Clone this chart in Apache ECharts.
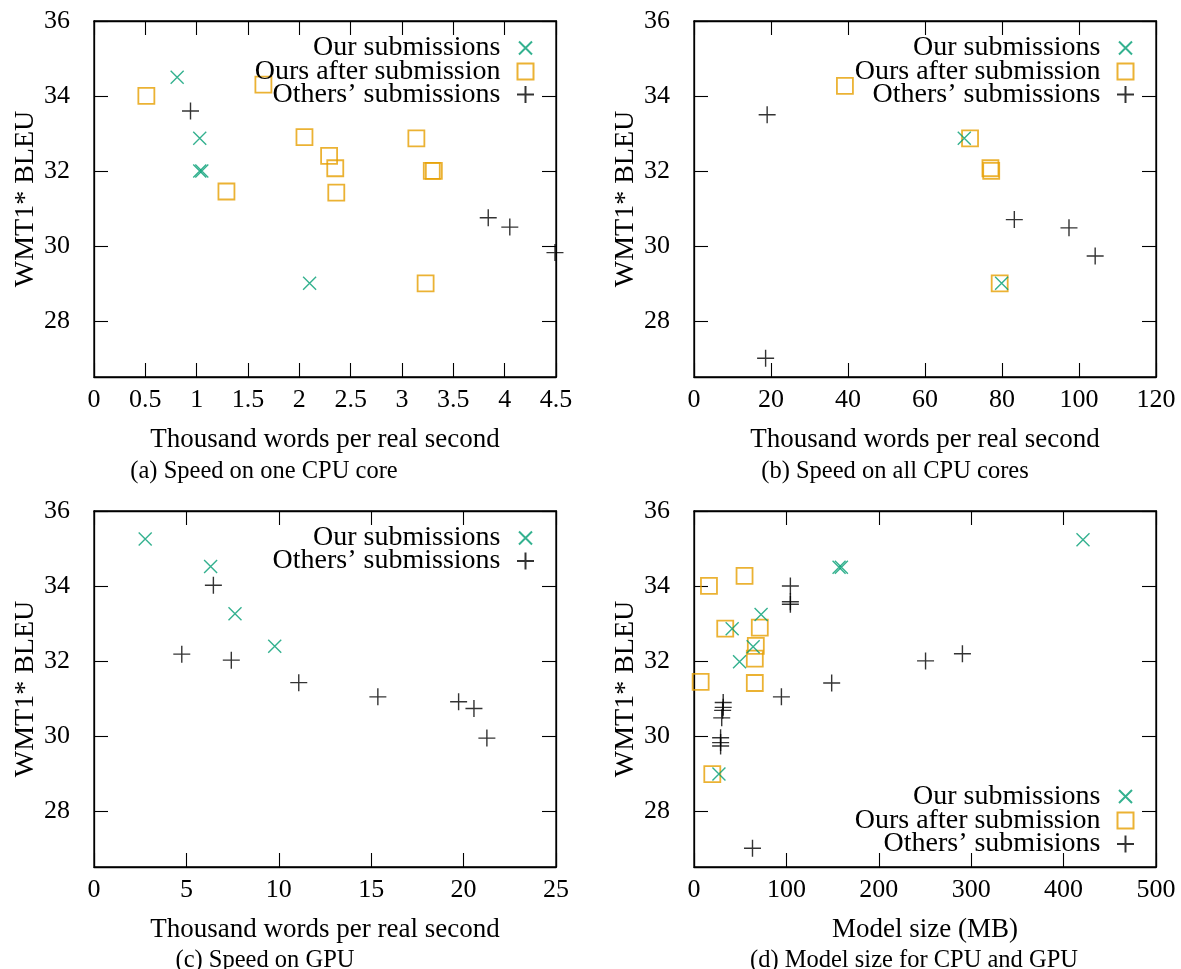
<!DOCTYPE html>
<html><head><meta charset="utf-8">
<script src="https://cdn.jsdelivr.net/npm/echarts@6/dist/echarts.min.js"></script>
<style>html,body{margin:0;padding:0;background:#fff}#c{width:1181px;height:969px}</style>
</head><body><div id="c"></div><script>
// ---- data (x, BLEU) ----
const aOurs = [[0.81,34.5],[1.03,32.87],[1.03,32.0],[1.05,32.0],[2.1,29.0]];
const aAfter = [[0.51,34.0],[1.65,34.3],[1.29,31.45],[2.05,32.9],[2.29,32.4],[2.35,32.07],[2.36,31.42],[3.14,32.87],[3.29,32.0],[3.31,32.0],[3.23,29.0]];
const aOthers = [[0.94,33.6],[3.84,30.75],[4.05,30.5],[4.49,29.82]];

const bOurs = [[70.2,32.87],[79.9,29.0]];
const bAfter = [[39.2,34.27],[71.7,32.87],[77.0,32.07],[77.2,32.0],[79.4,29.0]];
const bOthers = [[19.0,33.5],[18.6,27.0],[83.2,30.7],[97.4,30.48],[104.2,29.73]];

const cOurs = [[2.77,35.25],[6.31,34.52],[7.63,33.26],[9.78,32.39]];
const cOthers = [[6.46,34.02],[4.75,32.18],[7.43,32.02],[11.08,31.42],[15.36,31.04],[19.73,30.91],[20.56,30.73],[21.26,29.94]];

const dOurs = [[421,35.23],[157,34.5],[159.5,34.5],[72.6,33.24],[41.3,32.86],[64,32.38],[49.3,31.98],[27,28.98]];
const dAfter = [[16.2,34.0],[54.7,34.27],[33.8,32.86],[71.2,32.89],[66.9,32.4],[65.8,32.06],[65.8,31.41],[7.2,31.44],[19.8,28.98]];
const dOthers = [[104.3,34.0],[104.3,33.58],[104.3,33.51],[94.6,31.04],[149,31.41],[250.6,32.0],[290.5,32.19],[63.3,27.0],
  [31.6,30.89],[31.6,30.76],[31.0,30.68],[30.0,30.48],[28.8,29.95],[28.8,29.82],[28.8,29.73]];

const yTicks = [28,30,32,34,36];
const xRanges = [[0,4.5,0.5],[0,120,20],[0,25,5],[0,500,100]];
const xNames = ['Thousand words per real second','Thousand words per real second','Thousand words per real second','Model size (MB)'];
const captions = ['(a) Speed on one CPU core','(b) Speed on all CPU cores','(c) Speed on GPU','(d) Model size for CPU and GPU'];
const yName = 'WMT1* BLEU';
const N_OURS = 'Our submissions', N_AFTER = 'Ours after submission', N_OTH = 'Others\u2019 submissions', N_OTH_D = 'Others\u2019 submisions';

// ---- style ----
const FONT = '"Liberation Serif","DejaVu Serif",serif';
const GREEN = '#009E73', ORANGE = '#E69F00', BLACK = '#000';
const grids = [
  {left:94, top:21, width:462, height:356},
  {left:694, top:21, width:462, height:356},
  {left:94, top:511, width:462, height:356},
  {left:694, top:511, width:462, height:356}
].map(g => Object.assign(g, {show:true, borderColor:'#000', borderWidth:1.3, backgroundColor:'transparent'}));
const crossSym = 'path://M0,0L13,13M13,0L0,13';
const plusSym = 'path://M8.5,0L8.5,17M0,8.5L17,8.5';

function sOurs(i, data){ return {type:'scatter', name:N_OURS, xAxisIndex:2*i, yAxisIndex:2*i, data,
  symbol:crossSym, symbolSize:13, itemStyle:{color:'none', borderColor:GREEN, borderWidth:1.4}, emphasis:{disabled:true}, z:3}; }
function sAfter(i, data){ return {type:'scatter', name:N_AFTER, xAxisIndex:2*i, yAxisIndex:2*i, data,
  symbol:'rect', symbolSize:16, itemStyle:{color:'none', borderColor:ORANGE, borderWidth:1.8}, emphasis:{disabled:true}, z:2}; }
function sOth(i, data, name){ return {type:'scatter', name:name||N_OTH, xAxisIndex:2*i, yAxisIndex:2*i, data,
  symbol:plusSym, symbolSize:17, itemStyle:{color:'none', borderColor:BLACK, borderWidth:1.4}, emphasis:{disabled:true}, z:4}; }

function line(){ return {show:true, onZero:false, lineStyle:{color:'#000', width:1.3}}; }
function tick(cv){ const t = {show:true, inside:true, length:14, lineStyle:{color:'#000', width:1.1}}; if (cv) t.customValues = cv; return t; }

const xAxis = [], yAxis = [];
grids.forEach((g,i)=>{
  const r = xRanges[i];
  xAxis.push({type:'value', gridIndex:i, position:'bottom', min:r[0], max:r[1], interval:r[2],
    axisLine:line(), axisTick:tick(), splitLine:{show:false},
    axisLabel:{show:true, margin:10, fontFamily:FONT, fontSize:26, color:'#000', showMinLabel:true, showMaxLabel:true},
    name:xNames[i], nameLocation:'middle', nameGap:49, nameTextStyle:{fontFamily:FONT, fontSize:27, color:'#000'}});
  xAxis.push({type:'value', gridIndex:i, position:'top', min:r[0], max:r[1], interval:r[2],
    axisLine:line(), axisTick:tick(), splitLine:{show:false}, axisLabel:{show:false}});
  yAxis.push({type:'value', gridIndex:i, position:'left', min:26.5, max:36,
    axisLine:line(), axisTick:tick(yTicks), splitLine:{show:false},
    axisLabel:{show:true, customValues:yTicks, margin:24, fontFamily:FONT, fontSize:26, color:'#000'},
    name:yName, nameLocation:'middle', nameGap:51, nameRotate:90, nameTextStyle:{fontFamily:FONT, fontSize:28, color:'#000'}});
  yAxis.push({type:'value', gridIndex:i, position:'right', min:26.5, max:36,
    axisLine:line(), axisTick:tick(yTicks), splitLine:{show:false}, axisLabel:{show:false}});
});

const series = [
  sAfter(0,aAfter), sOurs(0,aOurs), sOth(0,aOthers),
  sAfter(1,bAfter), sOurs(1,bOurs), sOth(1,bOthers),
  sOurs(2,cOurs), sOth(2,cOthers),
  sAfter(3,dAfter), sOurs(3,dOurs), sOth(3,dOthers,N_OTH_D)
];

function leg(name, iconCx, cy, size, textRight){
  const right = 1181 - (iconCx + size/2);
  const iconLeft = iconCx - size/2;
  const pad = Math.max(0, iconLeft - 5 - textRight);
  return {data:[name], orient:'vertical', align:'right', right:right, top:cy-12, padding:0,
    itemWidth:size, itemHeight:size, selectedMode:false,
    textStyle:{fontFamily:FONT, fontSize:28, color:'#000', lineHeight:24, padding:[0,pad,0,0]}};
}
const legend = [
  leg(N_OURS, 528, 46, 13, 503), leg(N_AFTER, 528, 69.5, 16, 503), leg(N_OTH, 528, 92.5, 17, 503),
  leg(N_OURS, 1128, 46, 13, 1103), leg(N_AFTER, 1128, 69.5, 16, 1103), leg(N_OTH, 1128, 92.5, 17, 1103),
  leg(N_OURS, 528, 536, 13, 503), leg(N_OTH, 528, 559, 17, 503),
  leg(N_OURS, 1128, 794.5, 13, 1103), leg(N_AFTER, 1128, 818.5, 16, 1103), leg(N_OTH_D, 1128, 842, 17, 1103)
];

const capPos = [[264,472],[895,472],[265,961],[914,961]];
const graphic = captions.map((t,i)=>({type:'text', x:capPos[i][0], y:capPos[i][1], silent:true,
  style:{text:t, font:'24.5px "Liberation Serif"', fill:'#000', textAlign:'center', textVerticalAlign:'middle'}}));

const chart = echarts.init(document.getElementById('c'), null, {renderer:'canvas'});
chart.setOption({animation:false, backgroundColor:'#fff', grid:grids, xAxis, yAxis, series, legend, graphic});
</script></body></html>
